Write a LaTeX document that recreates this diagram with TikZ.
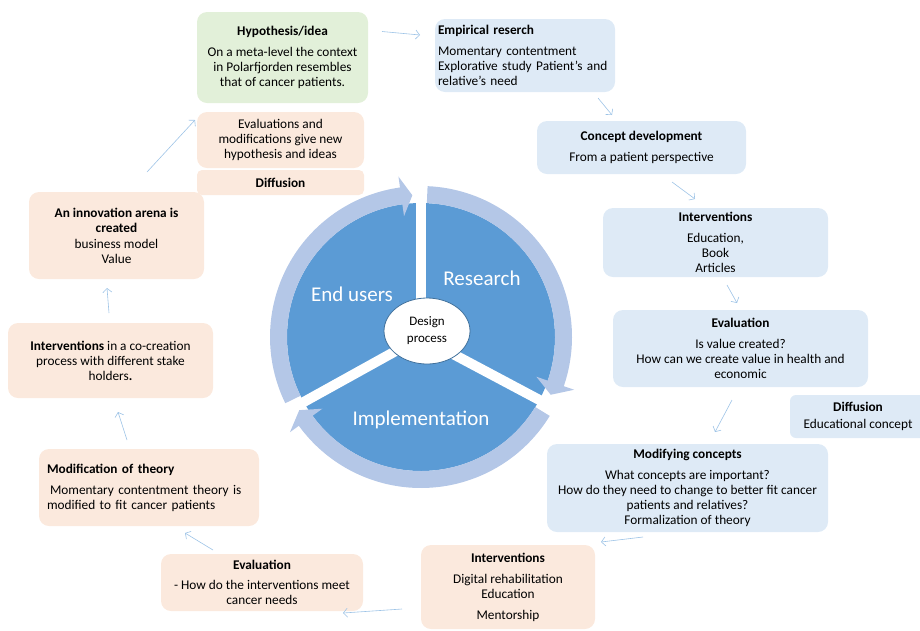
\documentclass[tikz,border=0pt]{standalone}
\usepackage{fontspec}
\setmainfont{Carlito}
\usepackage{tikz}
\usetikzlibrary{arrows.meta,shapes.geometric}

\definecolor{piedark}{HTML}{5B9BD5}
\definecolor{ringlight}{HTML}{B4C7E7}
\definecolor{boxblue}{HTML}{DEEAF6}
\definecolor{boxpeach}{HTML}{FBE9DD}
\definecolor{boxgreen}{HTML}{E2F0D9}
\definecolor{flowblue}{HTML}{9DC3E6}
\definecolor{rimblue}{HTML}{41719C}

\tikzset{
	box/.style={rounded corners=10pt, align=center, inner sep=4pt, outer sep=0pt, font=\fontsize{13.3}{15}\selectfont},
	bluebox/.style={box, fill=boxblue},
	peachbox/.style={box, fill=boxpeach},
	greenbox/.style={box, fill=boxgreen},
	biglabel/.style={text=white, font=\fontsize{21}{25}\selectfont},
	hub/.style={ellipse, draw=rimblue, line width=0.8pt, fill=white, inner sep=0pt, minimum width=86pt, minimum height=66pt, align=center, font=\fontsize{13}{17}\selectfont},
	flow/.style={draw=flowblue, line width=0.6pt, -{Straight Barb[length=4pt,width=9pt]}}
}

\begin{document}
\begin{tikzpicture}[x=1pt, y=-1pt]
	\useasboundingbox (0,0) rectangle (920,630);

	% design cycle
	\begin{scope}[shift={(421,337)}, yscale=-1]
		\fill[piedark] (0,0) circle [radius=134];
		\foreach \a in {90,-28,209} {
			\draw[white, line width=10pt] (0,0) -- (\a:160);
		}
		\foreach \s/\b/\t in {206/98/93.5, 87.5/-19/-24, -31.5/-144/-149} {
			\fill[ringlight] (\s:151) arc [start angle=\s, end angle=\b, radius=151] -- (\b:162) -- (\t:142) -- (\b:122) -- (\b:134) arc [start angle=\b, end angle=\s, radius=134] -- cycle;
		}
	\end{scope}

	\node[biglabel] (research) at (482,278) {Research};
	\node[biglabel] (endusers) at (352,294) {End users};
	\node[biglabel] (implement) at (421,420) {Implementation};
	\node[hub] (design) at (427,331) {Design\\process};

	% boxes
	\node[greenbox, minimum width=171pt, minimum height=91pt] (hyp) at (282.5,57.5) {\textbf{Hypothesis/idea}\\[6pt]On a meta-level the context\\in Polarfjorden resembles\\that of cancer patients.};
	\node[peachbox, minimum width=167pt, minimum height=56pt] (evalmod) at (280.5,140) {Evaluations and\\modifications give new\\hypothesis and ideas};
	\node[peachbox, rounded corners=5pt, minimum width=167pt, minimum height=25pt] (diffleft) at (280.5,182.5) {\textbf{Diffusion}};

	\node[bluebox, align=left, text width=174pt, inner xsep=3pt, minimum height=73pt] (emp) at (525,55.5) {\textbf{Empirical reserch}\\[6pt]Momentary contentment\\Explorative study Patient’s and\\relative’s need};
	\node[bluebox, minimum width=209pt, minimum height=53pt] (concept) at (641.5,147.5) {\textbf{Concept development}\\[6pt]From a patient perspective};
	\node[bluebox, minimum width=225pt, minimum height=69pt] (intright) at (715.5,242.5) {\textbf{Interventions}\\[6pt]Education,\\Book\\Articles};
	\node[bluebox, minimum width=255pt, minimum height=77pt] (evalright) at (740.5,348.5) {\textbf{Evaluation}\\[6pt]Is value created?\\How can we create value in health and\\economic};
	\node[bluebox, rounded corners=6pt, minimum width=136pt, minimum height=43pt] (diffright) at (858,416.5) {\textbf{Diffusion}\\[2pt]Educational concept};
	\node[bluebox, minimum width=281pt, minimum height=88pt] (modconc) at (687.5,488) {\textbf{Modifying concepts}\\[6pt]What concepts are important?\\How do they need to change to better fit cancer\\patients and relatives?\\Formalization of theory};

	\node[peachbox, minimum width=174pt, minimum height=84pt] (intbottom) at (508,587) {\textbf{Interventions}\\[6pt]Digital rehabilitation\\Education\\[6pt]Mentorship};
	\node[peachbox, minimum width=202pt, minimum height=57pt] (evalbottom) at (262,582.5) {\textbf{Evaluation}\\[5pt]- How do the interventions meet\\cancer needs};
	\node[peachbox, align=left, text width=204pt, inner xsep=8pt, minimum height=77pt] (modtheory) at (149,487.5) {\textbf{Modification of theory}\\[6pt]\hspace*{3pt}Momentary contentment theory is\\modified to fit cancer patients};
	\node[peachbox, minimum width=205pt, minimum height=75pt] (cocreate) at (110.5,360.5) {\textbf{Interventions} in a co-creation\\process with different stake\\holders\textbf{.}};
	\node[peachbox, minimum width=175pt, minimum height=87pt] (arena) at (116.5,235.5) {\textbf{An innovation arena is}\\\textbf{created}\\[1pt]business model\\Value};

	% connectors
	\draw[flow] ([xshift=14pt,yshift=26pt]hyp.east) -- ([xshift=-15pt,yshift=20.5pt]emp.west);
	\draw[flow] ([xshift=-17pt,yshift=-6pt]emp.south east) -- ([xshift=-29.5pt,yshift=6pt]concept.north);
	\draw[flow] ([xshift=30.5pt,yshift=-8pt]concept.south) -- ([xshift=-20.5pt,yshift=9pt]intright.north);
	\draw[flow] ([xshift=11.5pt,yshift=-8pt]intright.south) -- ([xshift=-3.5pt,yshift=7pt]evalright.north);
	\draw[flow] ([xshift=-8.5pt,yshift=-13pt]evalright.south) -- ([xshift=27.5pt,yshift=12pt]modconc.north);
	\draw[flow] ([xshift=-44.5pt,yshift=-5pt]modconc.south) -- ([xshift=6pt,yshift=3pt]intbottom.north east);
	\draw[flow] ([xshift=-19pt,yshift=-22pt]intbottom.west) -- ([xshift=-20pt,yshift=-2pt]evalbottom.south east);
	\draw[flow] ([xshift=-49pt,yshift=4pt]evalbottom.north) -- ([xshift=36pt,yshift=-7pt]modtheory.south);
	\draw[flow] ([xshift=-22pt,yshift=9pt]modtheory.north) -- ([xshift=7.5pt,yshift=-14pt]cocreate.south);
	\draw[flow] ([xshift=-1.5pt,yshift=10pt]cocreate.north) -- ([xshift=-9.5pt,yshift=-9pt]arena.south);
	\draw[flow] ([xshift=30.5pt,yshift=20pt]arena.north) -- ([xshift=-2pt,yshift=20pt]evalmod.west);
\end{tikzpicture}
\end{document}
